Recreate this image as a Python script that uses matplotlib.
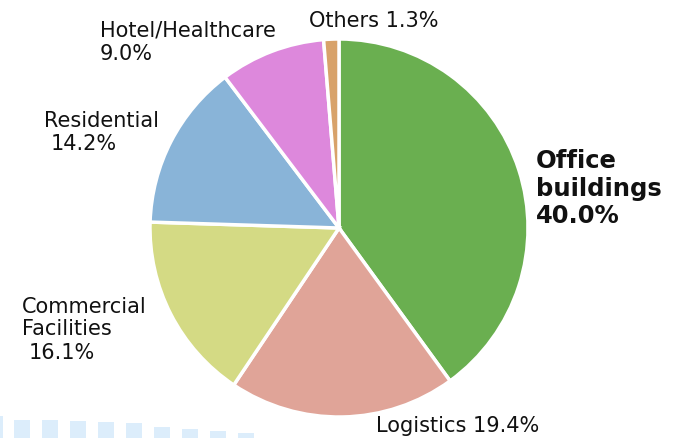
import matplotlib
matplotlib.use("Agg")
import matplotlib.pyplot as plt
from matplotlib.patches import Rectangle

categories = ["Office buildings", "Logistics", "Commercial Facilities", "Residential", "Hotel/Healthcare", "Others"]
values = [40.0, 19.4, 16.1, 14.2, 9.0, 1.3]
colors = ["#6aaf50", "#e0a498", "#d4da84", "#89b4d8", "#dd88dc", "#d8a26a"]

W, H = 678, 438
fig = plt.figure(figsize=(W / 100, H / 100), dpi=100)
ax = fig.add_axes([0, 0, 1, 1])

# decorative light-blue squares (bottom-left)
sq_x = [0, 14, 42, 70, 98, 126, 154, 182, 210, 238]
sq_top = [416, 420, 420, 421, 422, 423, 427, 429, 431, 433]
for x0, t in zip(sq_x, sq_top):
    w = 16 if x0 > 0 else 3
    ax.add_patch(Rectangle((x0, 0), w, H - t, color="#dcedfb", lw=0, zorder=0))

cx, cy, r = 339, H - 228, 189
ax.pie(values, colors=colors, startangle=90, counterclock=False,
       center=(cx, cy), radius=r, frame=True,
       wedgeprops=dict(edgecolor="white", linewidth=2.5))
ax.set_xlim(0, W)
ax.set_ylim(0, H)
ax.set_aspect("equal")
ax.axis("off")

fs = 15
def put(x, y, s, **kw):
    ax.text(x, H - y, s, fontsize=kw.pop("fontsize", fs), color="#111111",
            va="baseline", ha="left", family="DejaVu Sans", **kw)

put(309, 27, "Others 1.3%")
put(100, 37, "Hotel/Healthcare")
put(100, 60, "9.0%")
put(44, 127, "Residential")
put(51, 150, "14.2%")
put(22, 313, "Commercial")
put(22, 335, "Facilities")
put(29, 359, "16.1%")
put(376, 432, "Logistics 19.4%")
put(536, 168, "Office", fontsize=17.5, fontweight="bold")
put(536, 196, "buildings", fontsize=17.5, fontweight="bold")
put(536, 223, "40.0%", fontsize=17.5, fontweight="bold")

fig.savefig("out.png", dpi=100)
